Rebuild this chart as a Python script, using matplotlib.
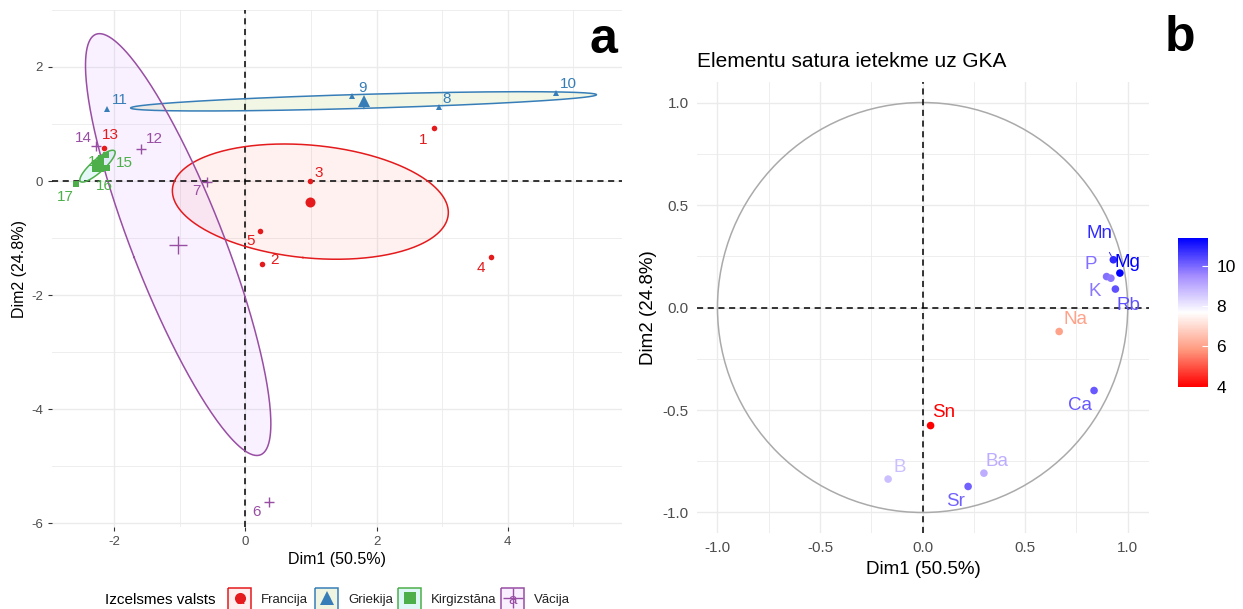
import matplotlib
matplotlib.use('Agg')
import matplotlib.pyplot as plt
import numpy as np
from matplotlib.patches import Rectangle, Circle
from matplotlib.colors import LinearSegmentedColormap, Normalize
from matplotlib.cm import ScalarMappable
from matplotlib.ticker import MultipleLocator

plt.rcParams['font.family'] = ['Liberation Sans', 'DejaVu Sans']
plt.rcParams['axes.unicode_minus'] = False

# --- panel a: individuals (PCA scores) ---
ind_id = ['1', '2', '3', '4', '5', '6', '7', '8', '9', '10', '11', '12', '13', '14', '15', '16', '17', '18']
ind_dim1 = [2.88, 0.25, 0.985, 3.75, 0.23, 0.36, -0.59, 2.95, 1.63, 4.74, -2.11, -1.59, -2.15, -2.28, -2.13, -2.11, -2.58, -2.20]
ind_dim2 = [0.93, -1.46, 0.0, -1.34, -0.88, -5.63, -0.01, 1.30, 1.49, 1.54, 1.26, 0.56, 0.58, 0.62, 0.46, 0.23, -0.05, 0.40]
ind_group = ['Francija', 'Francija', 'Francija', 'Francija', 'Francija', 'Vācija', 'Vācija',
             'Griekija', 'Griekija', 'Griekija', 'Griekija', 'Vācija', 'Francija', 'Vācija',
             'Kirgizstāna', 'Kirgizstāna', 'Kirgizstāna', 'Kirgizstāna']
groups = ['Francija', 'Griekija', 'Kirgizstāna', 'Vācija']

# --- panel b: variables (correlation circle) ---
var_names = ['Mn', 'Mg', 'P', 'K', 'Rb', 'Na', 'Ca', 'Sn', 'B', 'Ba', 'Sr']
var_dim1 = [0.93, 0.962, 0.897, 0.918, 0.94, 0.666, 0.836, 0.039, -0.168, 0.299, 0.222]
var_dim2 = [0.233, 0.168, 0.151, 0.143, 0.09, -0.117, -0.405, -0.576, -0.837, -0.808, -0.873]
var_contrib = [10.8, 11.37, 9.9, 9.8, 10.3, 6.0, 10.2, 4.0, 8.7, 9.0, 10.1]

line_col = {'Francija': '#E41A1C', 'Griekija': '#377EB8', 'Kirgizstāna': '#4DAF4A', 'Vācija': '#984EA3'}
fill_col = {'Francija': '#F8766D', 'Griekija': '#7CAE00', 'Kirgizstāna': '#00BFC4', 'Vācija': '#C77CFF'}
mark = {'Francija': 'o', 'Griekija': '^', 'Kirgizstāna': 's', 'Vācija': '+'}
msize = {'Francija': 4, 'Griekija': 5, 'Kirgizstāna': 4.5, 'Vācija': 7}

# label offsets in pixels (dx right, dy down)
ind_off = {'1': (-11, 12), '2': (13, -4), '3': (9, -8), '4': (-10, 11), '5': (-10, 10),
           '6': (-12, 10), '7': (-10, 9), '8': (8, -8), '9': (10, -8), '10': (12, -9),
           '11': (13, -9), '12': (13, -10), '13': (6, -13), '14': (-13, -8), '15': (19, 8),
           '16': (-3, 18), '17': (-11, 13), '18': (-5, 4)}
var_off = {'Mn': (-14, -26), 'Mg': (8, -11), 'P': (-16, -12), 'K': (-16, 13), 'Rb': (13, 16),
           'Na': (16, -12), 'Ca': (-14, 15), 'Sn': (13, -13), 'B': (12, -12), 'Ba': (13, -12),
           'Sr': (-13, 15)}

PX = 0.72  # pixels -> points at dpi 100

fig = plt.figure(figsize=(12.43, 6.09), dpi=100)

GRID = '#EBEBEB'
TXT = '#4D4D4D'


def conf_ellipse(x, y, q=5.991):
    # 95% confidence ellipse around the group mean
    cov = np.cov(x, y) / len(x)
    vals, vecs = np.linalg.eigh(cov)
    t = np.linspace(0, 2 * np.pi, 300)
    circ = np.stack([np.cos(t), np.sin(t)])
    pts = vecs @ (np.sqrt(vals * q)[:, None] * circ)
    return x.mean() + pts[0], y.mean() + pts[1]


# ================= panel a =================
ax1 = fig.add_axes([0.0418, 0.1346, 0.4584, 0.849])
x1 = np.array(ind_dim1)
y1 = np.array(ind_dim2)
g1 = np.array(ind_group)

for g in groups:
    m = g1 == g
    ex, ey = conf_ellipse(x1[m], y1[m])
    ax1.fill(ex, ey, color=fill_col[g], alpha=0.1, lw=0, zorder=2)
    ax1.plot(ex, ey, color=line_col[g], lw=1.1, zorder=3)

ax1.axhline(0, color='black', ls=(0, (4, 3)), lw=1.1, zorder=2.5)
ax1.axvline(0, color='black', ls=(0, (4, 3)), lw=1.1, zorder=2.5)

for g in groups:
    m = g1 == g
    ax1.plot(x1[m], y1[m], ls='none', marker=mark[g], ms=msize[g], color=line_col[g],
             mew=1 if g == 'Vācija' else 0, zorder=4)
    ax1.plot(x1[m].mean(), y1[m].mean(), ls='none', marker=mark[g],
             ms=msize[g] * 1.8, color=line_col[g], mew=1 if g == 'Vācija' else 0, zorder=4)

for i, lab in enumerate(ind_id):
    dx, dy = ind_off[lab]
    ax1.annotate(lab, (x1[i], y1[i]), xytext=(dx * PX, -dy * PX), textcoords='offset points',
                 ha='center', va='center', fontsize=11, color=line_col[ind_group[i]], zorder=5)

ax1.set_xlim(-2.95, 5.74)
ax1.set_ylim(-6.07, 3.0)
ax1.xaxis.set_major_locator(MultipleLocator(2))
ax1.yaxis.set_major_locator(MultipleLocator(2))
ax1.xaxis.set_minor_locator(MultipleLocator(1))
ax1.yaxis.set_minor_locator(MultipleLocator(1))
ax1.grid(which='major', color=GRID, lw=1.0, zorder=0)
ax1.grid(which='minor', color=GRID, lw=0.6, zorder=0)
ax1.set_axisbelow(True)
for s in ax1.spines.values():
    s.set_visible(False)
ax1.tick_params(which='major', length=3, color='#333333', labelcolor=TXT, labelsize=9.5)
ax1.tick_params(which='minor', length=0)
ax1.set_xlabel('Dim1 (50.5%)', fontsize=11.5, labelpad=3)
ax1.set_ylabel('Dim2 (24.8%)', fontsize=11.5, labelpad=3)

# ================= panel b =================
ax2 = fig.add_axes([0.5607, 0.1248, 0.3637, 0.7405])
vx = np.array(var_dim1)
vy = np.array(var_dim2)
vc = np.array(var_contrib)

cmap = LinearSegmentedColormap.from_list(
    'rwb', [(0, '#FF0000'), (0.25, '#FF9A80'), (0.5, '#FFFFFF'), (0.75, '#A48CFF'), (1, '#0000FF')])
norm = Normalize(vmin=vc.min(), vmax=vc.max())

ax2.add_patch(Circle((0, 0), 1, fill=False, ec='#AAAAAA', lw=1.1, zorder=2))
ax2.axhline(0, color='black', ls=(0, (4, 3)), lw=1.1, zorder=2.5)
ax2.axvline(0, color='black', ls=(0, (4, 3)), lw=1.1, zorder=2.5)
ax2.scatter(vx, vy, c=vc, cmap=cmap, norm=norm, s=30, lw=0, zorder=4)

for i, lab in enumerate(var_names):
    dx, dy = var_off[lab]
    col = cmap(norm(vc[i]))
    kw = {}
    if lab == 'Mn':
        kw['arrowprops'] = dict(arrowstyle='-', color=col, lw=0.7, shrinkA=6, shrinkB=3)
    ax2.annotate(lab, (vx[i], vy[i]), xytext=(dx * PX, -dy * PX), textcoords='offset points',
                 ha='center', va='center', fontsize=13.5, color=col, zorder=5, **kw)

ax2.set_xlim(-1.1, 1.104)
ax2.set_ylim(-1.1, 1.1)
ax2.xaxis.set_major_locator(MultipleLocator(0.5))
ax2.yaxis.set_major_locator(MultipleLocator(0.5))
ax2.xaxis.set_minor_locator(MultipleLocator(0.25))
ax2.yaxis.set_minor_locator(MultipleLocator(0.25))
ax2.xaxis.set_major_formatter(matplotlib.ticker.FormatStrFormatter('%.1f'))
ax2.yaxis.set_major_formatter(matplotlib.ticker.FormatStrFormatter('%.1f'))
ax2.grid(which='major', color=GRID, lw=1.0, zorder=0)
ax2.grid(which='minor', color=GRID, lw=0.6, zorder=0)
ax2.set_axisbelow(True)
for s in ax2.spines.values():
    s.set_visible(False)
ax2.tick_params(which='both', length=0, labelcolor=TXT, labelsize=11, pad=6)
ax2.set_xlabel('Dim1 (50.5%)', fontsize=13.5, labelpad=4)
ax2.set_ylabel('Dim2 (24.8%)', fontsize=13.5, labelpad=4)
ax2.set_title('Elementu satura ietekme uz GKA', loc='left', fontsize=15, pad=11)

cax = fig.add_axes([0.948, 0.365, 0.0237, 0.2437])
cb = fig.colorbar(ScalarMappable(norm=norm, cmap=cmap), cax=cax, ticks=[4, 6, 8, 10])
cb.outline.set_visible(False)
cb.ax.tick_params(color='white', direction='in', length=4, width=0.8, labelsize=12.5, pad=6)

# ================= legend (bottom of panel a) =================
lg = fig.add_axes([0, 0, 1, 1], facecolor='none')
lg.set_xlim(0, 1243)
lg.set_ylim(609, 0)
lg.axis('off')
lg.text(105, 600, 'Izcelsmes valsts', fontsize=11, va='center', ha='left')
key_x = [240, 327, 410, 513]
for g, kx in zip(groups, key_x):
    lg.add_patch(Rectangle((kx - 11.5, 587.5), 23, 24, fc=fill_col[g], alpha=0.12, lw=0))
    lg.add_patch(Rectangle((kx - 11.5, 587.5), 23, 24, fill=False, ec=line_col[g], lw=1.1))
    lg.text(kx, 600, 'a', fontsize=11, color=line_col[g], ha='center', va='center')
    lg.plot(kx, 598, marker=mark[g], ms=msize[g] * 2.0, color=line_col[g],
            mew=1 if g == 'Vācija' else 0, ls='none')
    lg.text(kx + 21, 600, g, fontsize=9.5, va='center', ha='left', color='#222222')

fig.text(603 / 1243, 1 - 40 / 609, 'a', fontsize=36, fontweight='bold', ha='center', va='center')
fig.text(1180 / 1243, 1 - 38 / 609, 'b', fontsize=36, fontweight='bold', ha='center', va='center')

plt.savefig('out.png', dpi=100)
